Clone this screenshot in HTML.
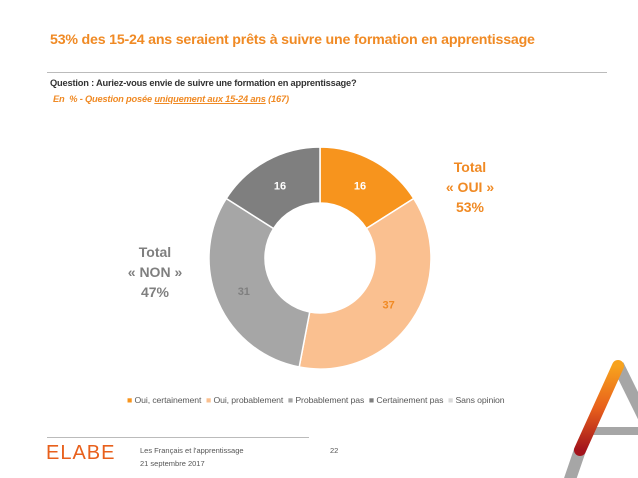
<!DOCTYPE html>
<html><head><meta charset="utf-8"><style>
body{margin:0;width:638px;height:478px;background:#fff;position:relative;overflow:hidden;font-family:"Liberation Sans",sans-serif}
.a{position:absolute;white-space:nowrap}
</style></head><body>
<div class="a" style="left:50px;top:32px;font-size:14.2px;font-weight:bold;color:#F08A24;letter-spacing:-0.2px">53% des 15-24 ans seraient prêts à suivre une formation en apprentissage</div>
<div class="a" style="left:47px;top:72px;width:560px;height:1px;background:#bbb"></div>
<div class="a" style="left:50px;top:78px;font-size:9.3px;font-weight:bold;color:#333;letter-spacing:-0.2px">Question : Auriez-vous envie de suivre une formation en apprentissage?</div>
<div class="a" style="left:53px;top:94px;font-size:9.3px;font-weight:bold;font-style:italic;color:#F08A24;letter-spacing:-0.2px">En &nbsp;% - Question posée <u>uniquement aux 15-24 ans</u> (167)</div>
<svg class="a" style="left:0;top:0" width="638" height="478">
<defs><linearGradient id="og" x1="0" y1="0" x2="0" y2="1"><stop offset="0" stop-color="#F7A21D"/><stop offset="0.5" stop-color="#E8601C"/><stop offset="1" stop-color="#A3141C"/></linearGradient></defs>
<g id="donut"></g>
<g>
<line x1="618" y1="365" x2="650" y2="430" stroke="#a6a6a6" stroke-width="12"/>
<rect x="588" y="427" width="50" height="8" fill="#a6a6a6"/>
<line x1="580" y1="450" x2="568" y2="485" stroke="#a6a6a6" stroke-width="12"/>
<line x1="618" y1="366" x2="580" y2="450" stroke="url(#og)" stroke-width="12" stroke-linecap="round"/>
</g>
</svg>
<div class="a" style="left:430px;top:157px;width:80px;text-align:center;font-size:14px;font-weight:bold;color:#F08A24;line-height:20px">Total<br>« OUI »<br>53%</div>
<div class="a" style="left:115px;top:242px;width:80px;text-align:center;font-size:14px;font-weight:bold;color:#7f7f7f;line-height:20px">Total<br>« NON »<br>47%</div>
<div class="a" style="left:127px;top:395px;font-size:8.7px;color:#595959;letter-spacing:-0.1px">
<span><span style="color:#F7941D">■</span> Oui, certainement</span>&nbsp;
<span><span style="color:#FAC090">■</span> Oui, probablement</span>&nbsp;
<span><span style="color:#A6A6A6">■</span> Probablement pas</span>&nbsp;
<span><span style="color:#7F7F7F">■</span> Certainement pas</span>&nbsp;
<span><span style="color:#D9D9D9">■</span> Sans opinion</span></div>
<div class="a" style="left:47px;top:437px;width:262px;height:1px;background:#bbb"></div>
<div class="a" style="left:46px;top:442px;font-size:20px;color:#E8601C;letter-spacing:1px">ELABE</div>
<div class="a" style="left:140px;top:444px;font-size:7.5px;color:#555;line-height:13px">Les Français et l'apprentissage<br>21 septembre 2017</div>
<div class="a" style="left:330px;top:446px;font-size:7.5px;color:#555">22</div>
<script>
const categories=["Oui, certainement","Oui, probablement","Probablement pas","Certainement pas","Sans opinion"];
const values=[16,37,31,16,0];
const colors=["#F7941D","#FAC090","#A6A6A6","#7F7F7F","#D9D9D9"];
const labelColors=["#fff","#F08A24","#7f7f7f","#fff","#fff"];
const cx=320,cy=258,R=111,r=55;
const g=document.getElementById('donut');
const total=values.reduce((a,b)=>a+b,0);
const ang=v=>v/total*2*Math.PI;
const pt=(a,rad)=>[cx+rad*Math.sin(a),cy-rad*Math.cos(a)];
let acc=0;const NS="http://www.w3.org/2000/svg";
values.forEach((v,i)=>{
 if(v<=0)return;
 const a0=ang(acc),a1=ang(acc+v);acc+=v;
 const L=(a1-a0)>Math.PI?1:0;
 const [x0,y0]=pt(a0,R),[x1,y1]=pt(a1,R),[x2,y2]=pt(a1,r),[x3,y3]=pt(a0,r);
 const p=document.createElementNS(NS,'path');
 p.setAttribute('d',`M${x0},${y0}A${R},${R} 0 ${L} 1 ${x1},${y1}L${x2},${y2}A${r},${r} 0 ${L} 0 ${x3},${y3}Z`);
 p.setAttribute('fill',colors[i]);p.setAttribute('stroke','#fff');p.setAttribute('stroke-width','1.5');
 
 
 g.appendChild(p);
 const [lx,ly]=pt((a0+a1)/2,(R+r)/2);
 const t=document.createElementNS(NS,'text');
 t.setAttribute('x',lx);t.setAttribute('y',ly+4);t.setAttribute('text-anchor','middle');
 t.setAttribute('font-size','11');t.setAttribute('font-weight','bold');t.setAttribute('fill',labelColors[i]);
 t.setAttribute('font-family','Liberation Sans, sans-serif');
 
 
 t.textContent=v;g.appendChild(t);
});
</script>
</body></html>
